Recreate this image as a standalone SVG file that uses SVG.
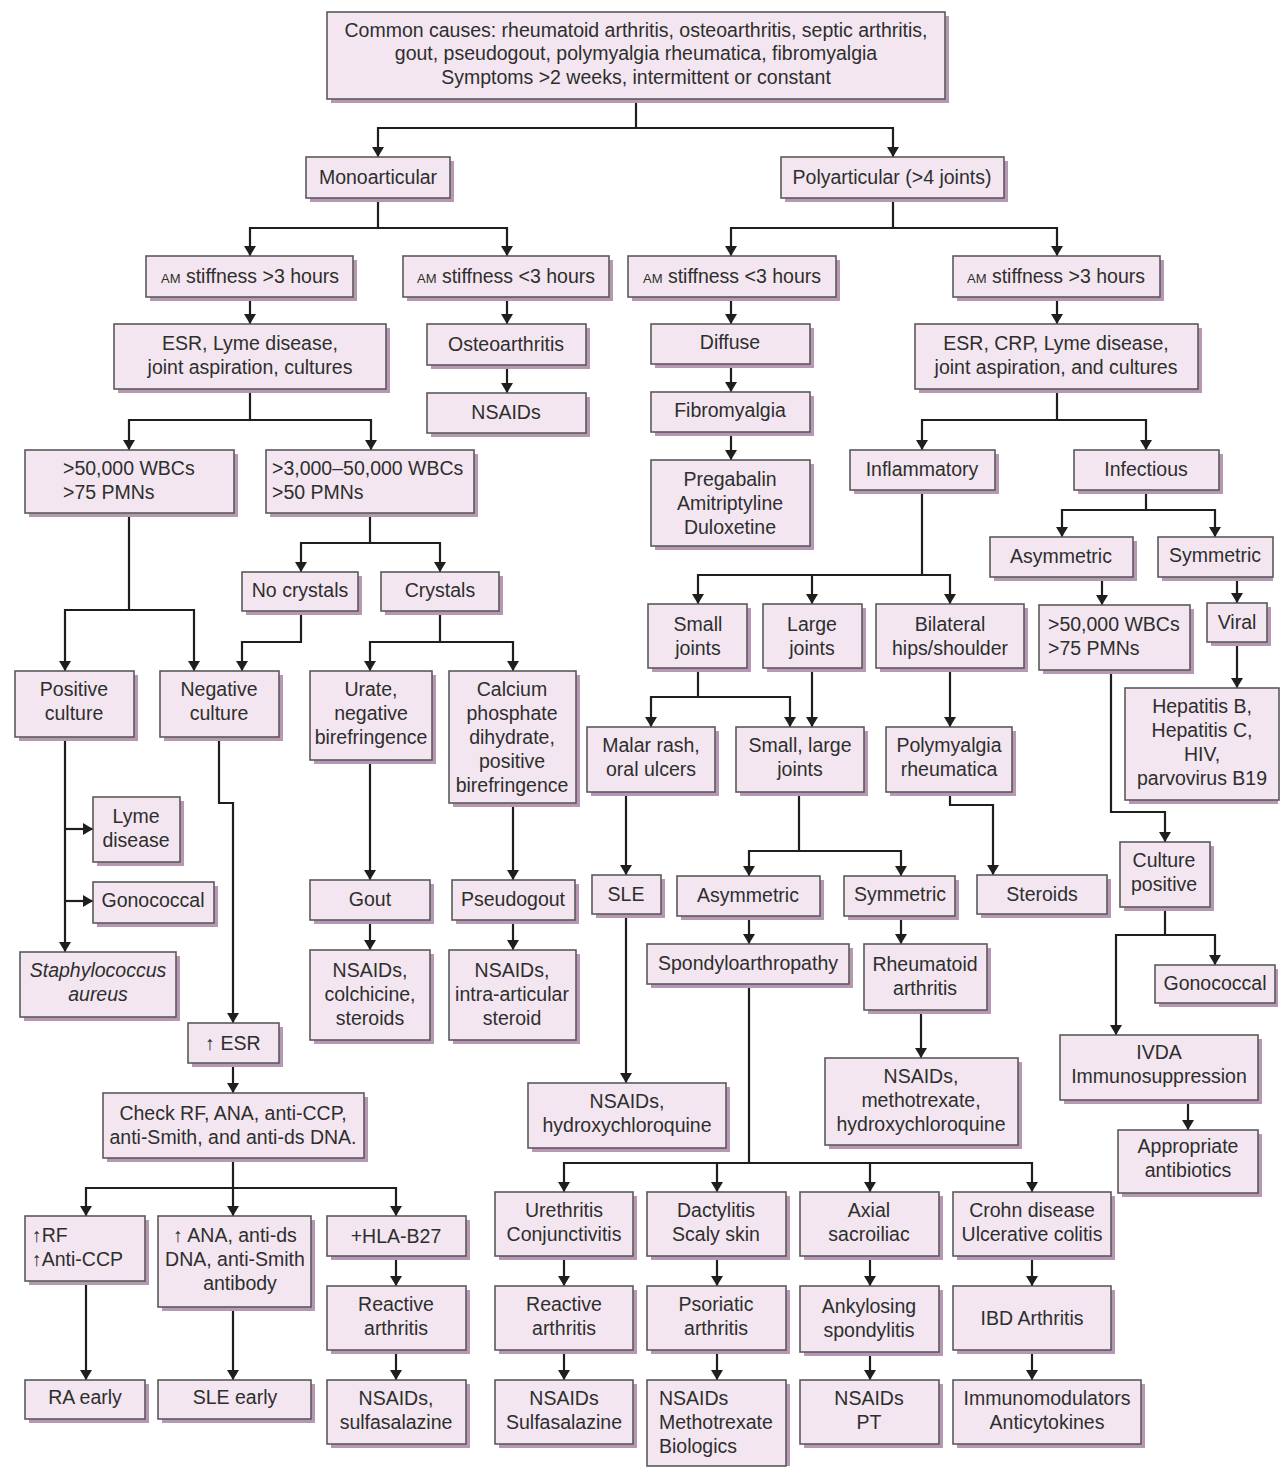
<svg xmlns="http://www.w3.org/2000/svg" width="1282" height="1468" viewBox="0 0 1282 1468">
<defs>
<marker id="ah" viewBox="0 0 10 12" refX="10" refY="6" markerWidth="10" markerHeight="12" markerUnits="userSpaceOnUse" orient="auto">
<path d="M0,0 L10,6 L0,12 Z" fill="#1e1e1e"/>
</marker>
<style>
.s{fill:#b797b3;}
.b{fill:#f3e6f0;stroke:#5a5a5a;stroke-width:1.6;}
text{font-family:"Liberation Sans",Arial,sans-serif;font-size:19.5px;fill:#2e2e2e;}
.t{text-anchor:middle;}
.i{font-style:italic;}
.sc{font-size:13px;}
.c path{fill:none;stroke:#1e1e1e;stroke-width:2.2;}
.c path.a{marker-end:url(#ah);}
</style>
</defs>
<rect width="1282" height="1468" fill="#ffffff"/>

<g class="c" id="connectors">
<path class="a" d="M636 99 V128 H378 V157"/>
<path class="a" d="M636 128 H893 V157"/>
<path class="a" d="M378 198 V228 H250 V256"/>
<path class="a" d="M378 228 H507 V256"/>
<path class="a" d="M893 198 V228 H731 V256"/>
<path class="a" d="M893 228 H1057 V256"/>
<path class="a" d="M250 297 V324"/>
<path class="a" d="M507 297 V324"/>
<path class="a" d="M507 365 V393"/>
<path class="a" d="M731 297 V324"/>
<path class="a" d="M731 364 V392"/>
<path class="a" d="M731 432 V460"/>
<path class="a" d="M1057 297 V324"/>
<path class="a" d="M250 389 V420 H129 V450"/>
<path class="a" d="M250 420 H371 V450"/>
<path class="a" d="M370 513 V543 H301 V572"/>
<path class="a" d="M370 543 H440 V572"/>
<path class="a" d="M129 513 V610 H65 V671"/>
<path class="a" d="M129 610 H194 V671"/>
<path class="a" d="M301 611 V642 H242 V671"/>
<path class="a" d="M440 611 V642 H370 V671"/>
<path class="a" d="M440 642 H513 V671"/>
<path class="a" d="M65 737 V952"/>
<path class="a" d="M65 829 H93"/>
<path class="a" d="M65 901 H93"/>
<path class="a" d="M219 737 V803 H233 V1023"/>
<path class="a" d="M233 1063 V1093"/>
<path class="a" d="M233 1158 V1188 H86 V1216"/>
<path class="a" d="M233 1188 V1216"/>
<path class="a" d="M233 1188 H396 V1216"/>
<path class="a" d="M86 1281 V1380"/>
<path class="a" d="M233 1307 V1380"/>
<path class="a" d="M396 1256 V1286"/>
<path class="a" d="M396 1350 V1380"/>
<path class="a" d="M370 760 V880"/>
<path class="a" d="M370 920 V950"/>
<path class="a" d="M513 803 V880"/>
<path class="a" d="M513 920 V950"/>
<path class="a" d="M1057 389 V420 H922 V450"/>
<path class="a" d="M1057 420 H1146 V450"/>
<path class="a" d="M1146 490 V510 H1062 V537"/>
<path class="a" d="M1146 510 H1215 V537"/>
<path class="a" d="M1102 577 V605"/>
<path class="a" d="M1237 577 V603"/>
<path class="a" d="M1237 642 V688"/>
<path class="a" d="M1111 670 V812 H1165 V842"/>
<path class="a" d="M1165 907 V935 H1116 V1035"/>
<path class="a" d="M1165 935 H1215 V965"/>
<path class="a" d="M1188 1100 V1130"/>
<path class="a" d="M922 490 V575 H698 V604"/>
<path class="a" d="M922 575 H812 V604"/>
<path class="a" d="M922 575 H950 V604"/>
<path class="a" d="M698 668 V697 H651 V727"/>
<path class="a" d="M698 697 H790 V727"/>
<path class="a" d="M812 668 V727"/>
<path class="a" d="M950 668 V727"/>
<path class="a" d="M950 792 V805 H993 V875"/>
<path class="a" d="M626 792 V875"/>
<path class="a" d="M626 914 V1083"/>
<path class="a" d="M799 792 V851 H749 V876"/>
<path class="a" d="M799 851 H901 V876"/>
<path class="a" d="M749 916 V944"/>
<path class="a" d="M901 916 V944"/>
<path class="a" d="M921 1010 V1058"/>
<path class="a" d="M749 984 V1163 H564 V1192"/>
<path class="a" d="M749 1163 H717 V1192"/>
<path class="a" d="M749 1163 H870 V1192"/>
<path class="a" d="M749 1163 H1032 V1192"/>
<path class="a" d="M564 1256 V1286"/>
<path class="a" d="M717 1256 V1286"/>
<path class="a" d="M870 1256 V1286"/>
<path class="a" d="M1032 1256 V1286"/>
<path class="a" d="M564 1350 V1380"/>
<path class="a" d="M717 1350 V1380"/>
<path class="a" d="M870 1352 V1380"/>
<path class="a" d="M1032 1350 V1380"/>
</g>

<g id="n-top"><rect class="s" x="331" y="16" width="618" height="87"/><rect class="b" x="327" y="12" width="618" height="87"/>
<text class="t"><tspan x="636" y="37">Common causes: rheumatoid arthritis, osteoarthritis, septic arthritis,</tspan><tspan x="636" y="60">gout, pseudogout, polymyalgia rheumatica, fibromyalgia</tspan><tspan x="636" y="84">Symptoms &gt;2 weeks, intermittent or constant</tspan></text></g>

<g id="n-mono"><rect class="s" x="310" y="161" width="144" height="41"/><rect class="b" x="306" y="157" width="144" height="41"/><text class="t" x="378" y="184">Monoarticular</text></g>
<g id="n-poly"><rect class="s" x="785" y="161" width="223" height="41"/><rect class="b" x="781" y="157" width="223" height="41"/><text class="t" x="892" y="184">Polyarticular (&gt;4 joints)</text></g>

<g id="n-am1"><rect class="s" x="150" y="260" width="207" height="41"/><rect class="b" x="146" y="256" width="207" height="41"/><text class="t" x="250" y="283"><tspan class="sc">AM</tspan> stiffness &gt;3 hours</text></g>
<g id="n-am2"><rect class="s" x="407" y="260" width="206" height="41"/><rect class="b" x="403" y="256" width="206" height="41"/><text class="t" x="506" y="283"><tspan class="sc">AM</tspan> stiffness &lt;3 hours</text></g>
<g id="n-am3"><rect class="s" x="632" y="260" width="208" height="41"/><rect class="b" x="628" y="256" width="208" height="41"/><text class="t" x="732" y="283"><tspan class="sc">AM</tspan> stiffness &lt;3 hours</text></g>
<g id="n-am4"><rect class="s" x="957" y="260" width="207" height="41"/><rect class="b" x="953" y="256" width="207" height="41"/><text class="t" x="1056" y="283"><tspan class="sc">AM</tspan> stiffness &gt;3 hours</text></g>

<g id="n-esr1"><rect class="s" x="118" y="328" width="272" height="65"/><rect class="b" x="114" y="324" width="272" height="65"/><text class="t"><tspan x="250" y="350">ESR, Lyme disease,</tspan><tspan x="250" y="374">joint aspiration, cultures</tspan></text></g>
<g id="n-oa"><rect class="s" x="431" y="328" width="159" height="41"/><rect class="b" x="427" y="324" width="159" height="41"/><text class="t" x="506" y="351">Osteoarthritis</text></g>
<g id="n-nsaid1"><rect class="s" x="431" y="397" width="159" height="40"/><rect class="b" x="427" y="393" width="159" height="40"/><text class="t" x="506" y="419">NSAIDs</text></g>
<g id="n-diffuse"><rect class="s" x="655" y="328" width="159" height="40"/><rect class="b" x="651" y="324" width="159" height="40"/><text class="t" x="730" y="349">Diffuse</text></g>
<g id="n-fibro"><rect class="s" x="655" y="396" width="159" height="40"/><rect class="b" x="651" y="392" width="159" height="40"/><text class="t" x="730" y="417">Fibromyalgia</text></g>
<g id="n-prega"><rect class="s" x="655" y="464" width="159" height="86"/><rect class="b" x="651" y="460" width="159" height="86"/><text class="t"><tspan x="730" y="486">Pregabalin</tspan><tspan x="730" y="510">Amitriptyline</tspan><tspan x="730" y="534">Duloxetine</tspan></text></g>
<g id="n-esr2"><rect class="s" x="919" y="328" width="283" height="65"/><rect class="b" x="915" y="324" width="283" height="65"/><text class="t"><tspan x="1056" y="350">ESR, CRP, Lyme disease,</tspan><tspan x="1056" y="374">joint aspiration, and cultures</tspan></text></g>

<g id="n-wbc1"><rect class="s" x="29" y="454" width="209" height="63"/><rect class="b" x="25" y="450" width="209" height="63"/><text><tspan x="63" y="475">&gt;50,000 WBCs</tspan><tspan x="63" y="499">&gt;75 PMNs</tspan></text></g>
<g id="n-wbc2"><rect class="s" x="270" y="454" width="208" height="63"/><rect class="b" x="266" y="450" width="208" height="63"/><text><tspan x="272" y="475">&gt;3,000–50,000 WBCs</tspan><tspan x="272" y="499">&gt;50 PMNs</tspan></text></g>
<g id="n-nocry"><rect class="s" x="246" y="576" width="116" height="39"/><rect class="b" x="242" y="572" width="116" height="39"/><text class="t" x="300" y="597">No crystals</text></g>
<g id="n-cry"><rect class="s" x="385" y="576" width="118" height="39"/><rect class="b" x="381" y="572" width="118" height="39"/><text class="t" x="440" y="597">Crystals</text></g>

<g id="n-poscul"><rect class="s" x="19" y="675" width="119" height="66"/><rect class="b" x="15" y="671" width="119" height="66"/><text class="t"><tspan x="74" y="696">Positive</tspan><tspan x="74" y="720">culture</tspan></text></g>
<g id="n-negcul"><rect class="s" x="164" y="675" width="119" height="66"/><rect class="b" x="160" y="671" width="119" height="66"/><text class="t"><tspan x="219" y="696">Negative</tspan><tspan x="219" y="720">culture</tspan></text></g>
<g id="n-urate"><rect class="s" x="314" y="675" width="122" height="89"/><rect class="b" x="310" y="671" width="122" height="89"/><text class="t"><tspan x="371" y="696">Urate,</tspan><tspan x="371" y="720">negative</tspan><tspan x="371" y="744">birefringence</tspan></text></g>
<g id="n-calc"><rect class="s" x="453" y="675" width="127" height="132"/><rect class="b" x="449" y="671" width="127" height="132"/><text class="t"><tspan x="512" y="696">Calcium</tspan><tspan x="512" y="720">phosphate</tspan><tspan x="512" y="744">dihydrate,</tspan><tspan x="512" y="768">positive</tspan><tspan x="512" y="792">birefringence</tspan></text></g>

<g id="n-lyme"><rect class="s" x="97" y="801" width="87" height="65"/><rect class="b" x="93" y="797" width="87" height="65"/><text class="t"><tspan x="136" y="823">Lyme</tspan><tspan x="136" y="847">disease</tspan></text></g>
<g id="n-gono1"><rect class="s" x="97" y="886" width="121" height="41"/><rect class="b" x="93" y="882" width="121" height="41"/><text class="t" x="153" y="907">Gonococcal</text></g>
<g id="n-staph"><rect class="s" x="24" y="956" width="156" height="65"/><rect class="b" x="20" y="952" width="156" height="65"/><text class="t i"><tspan x="98" y="977">Staphylococcus</tspan><tspan x="98" y="1001">aureus</tspan></text></g>
<g id="n-upesr"><rect class="s" x="192" y="1027" width="91" height="40"/><rect class="b" x="188" y="1023" width="91" height="40"/><text class="t" x="233" y="1050">↑ ESR</text></g>
<g id="n-check"><rect class="s" x="107" y="1097" width="261" height="65"/><rect class="b" x="103" y="1093" width="261" height="65"/><text class="t"><tspan x="233" y="1120">Check RF, ANA, anti-CCP,</tspan><tspan x="233" y="1144">anti-Smith, and anti-ds DNA.</tspan></text></g>
<g id="n-rf"><rect class="s" x="29" y="1220" width="120" height="65"/><rect class="b" x="25" y="1216" width="120" height="65"/><text><tspan x="32" y="1242">↑RF</tspan><tspan x="32" y="1266">↑Anti-CCP</tspan></text></g>
<g id="n-ana"><rect class="s" x="162" y="1220" width="153" height="91"/><rect class="b" x="158" y="1216" width="153" height="91"/><text class="t"><tspan x="235" y="1242">↑ ANA, anti-ds</tspan><tspan x="235" y="1266">DNA, anti-Smith</tspan><tspan x="240" y="1290">antibody</tspan></text></g>
<g id="n-hla"><rect class="s" x="331" y="1220" width="139" height="40"/><rect class="b" x="327" y="1216" width="139" height="40"/><text class="t" x="396" y="1243">+HLA-B27</text></g>
<g id="n-react1"><rect class="s" x="331" y="1290" width="139" height="64"/><rect class="b" x="327" y="1286" width="139" height="64"/><text class="t"><tspan x="396" y="1311">Reactive</tspan><tspan x="396" y="1335">arthritis</tspan></text></g>
<g id="n-sulfa1"><rect class="s" x="331" y="1384" width="139" height="64"/><rect class="b" x="327" y="1380" width="139" height="64"/><text class="t"><tspan x="396" y="1405">NSAIDs,</tspan><tspan x="396" y="1429">sulfasalazine</tspan></text></g>
<g id="n-raearly"><rect class="s" x="29" y="1384" width="120" height="39"/><rect class="b" x="25" y="1380" width="120" height="39"/><text class="t" x="85" y="1404">RA early</text></g>
<g id="n-sleearly"><rect class="s" x="162" y="1384" width="153" height="39"/><rect class="b" x="158" y="1380" width="153" height="39"/><text class="t" x="235" y="1404">SLE early</text></g>

<g id="n-gout"><rect class="s" x="314" y="884" width="120" height="40"/><rect class="b" x="310" y="880" width="120" height="40"/><text class="t" x="370" y="906">Gout</text></g>
<g id="n-colch"><rect class="s" x="314" y="954" width="120" height="90"/><rect class="b" x="310" y="950" width="120" height="90"/><text class="t"><tspan x="370" y="977">NSAIDs,</tspan><tspan x="370" y="1001">colchicine,</tspan><tspan x="370" y="1025">steroids</tspan></text></g>
<g id="n-pseudo"><rect class="s" x="456" y="884" width="123" height="40"/><rect class="b" x="452" y="880" width="123" height="40"/><text class="t" x="513" y="906">Pseudogout</text></g>
<g id="n-intra"><rect class="s" x="453" y="954" width="127" height="90"/><rect class="b" x="449" y="950" width="127" height="90"/><text class="t"><tspan x="512" y="977">NSAIDs,</tspan><tspan x="512" y="1001">intra-articular</tspan><tspan x="512" y="1025">steroid</tspan></text></g>

<g id="n-inflam"><rect class="s" x="854" y="454" width="145" height="40"/><rect class="b" x="850" y="450" width="145" height="40"/><text class="t" x="922" y="476">Inflammatory</text></g>
<g id="n-infect"><rect class="s" x="1078" y="454" width="145" height="40"/><rect class="b" x="1074" y="450" width="145" height="40"/><text class="t" x="1146" y="476">Infectious</text></g>
<g id="n-asym1"><rect class="s" x="994" y="541" width="143" height="40"/><rect class="b" x="990" y="537" width="143" height="40"/><text class="t" x="1061" y="563">Asymmetric</text></g>
<g id="n-sym1"><rect class="s" x="1162" y="541" width="111" height="40"/><rect class="b" x="1158" y="537" width="115" height="40"/><text class="t" x="1215" y="562">Symmetric</text></g>
<g id="n-wbc3"><rect class="s" x="1043" y="609" width="151" height="65"/><rect class="b" x="1039" y="605" width="151" height="65"/><text><tspan x="1048" y="631">&gt;50,000 WBCs</tspan><tspan x="1048" y="655">&gt;75 PMNs</tspan></text></g>
<g id="n-viral"><rect class="s" x="1211" y="607" width="60" height="39"/><rect class="b" x="1207" y="603" width="60" height="39"/><text class="t" x="1237" y="629">Viral</text></g>
<g id="n-hep"><rect class="s" x="1129" y="692" width="149" height="112"/><rect class="b" x="1125" y="688" width="154" height="112"/><text class="t"><tspan x="1202" y="713">Hepatitis B,</tspan><tspan x="1202" y="737">Hepatitis C,</tspan><tspan x="1202" y="761">HIV,</tspan><tspan x="1202" y="785">parvovirus B19</tspan></text></g>
<g id="n-culpos"><rect class="s" x="1124" y="846" width="90" height="65"/><rect class="b" x="1120" y="842" width="90" height="65"/><text class="t"><tspan x="1164" y="867">Culture</tspan><tspan x="1164" y="891">positive</tspan></text></g>
<g id="n-gono2"><rect class="s" x="1159" y="969" width="119" height="38"/><rect class="b" x="1155" y="965" width="120" height="38"/><text class="t" x="1215" y="990">Gonococcal</text></g>
<g id="n-ivda"><rect class="s" x="1064" y="1039" width="198" height="65"/><rect class="b" x="1060" y="1035" width="198" height="65"/><text class="t"><tspan x="1159" y="1059">IVDA</tspan><tspan x="1159" y="1083">Immunosuppression</tspan></text></g>
<g id="n-abx"><rect class="s" x="1122" y="1134" width="140" height="63"/><rect class="b" x="1118" y="1130" width="140" height="63"/><text class="t"><tspan x="1188" y="1153">Appropriate</tspan><tspan x="1188" y="1177">antibiotics</tspan></text></g>

<g id="n-small"><rect class="s" x="652" y="608" width="99" height="64"/><rect class="b" x="648" y="604" width="99" height="64"/><text class="t"><tspan x="698" y="631">Small</tspan><tspan x="698" y="655">joints</tspan></text></g>
<g id="n-large"><rect class="s" x="767" y="608" width="99" height="64"/><rect class="b" x="763" y="604" width="99" height="64"/><text class="t"><tspan x="812" y="631">Large</tspan><tspan x="812" y="655">joints</tspan></text></g>
<g id="n-bilat"><rect class="s" x="880" y="608" width="148" height="64"/><rect class="b" x="876" y="604" width="148" height="64"/><text class="t"><tspan x="950" y="631">Bilateral</tspan><tspan x="950" y="655">hips/shoulder</tspan></text></g>
<g id="n-malar"><rect class="s" x="591" y="731" width="128" height="65"/><rect class="b" x="587" y="727" width="128" height="65"/><text class="t"><tspan x="651" y="752">Malar rash,</tspan><tspan x="651" y="776">oral ulcers</tspan></text></g>
<g id="n-smlg"><rect class="s" x="740" y="731" width="128" height="65"/><rect class="b" x="736" y="727" width="128" height="65"/><text class="t"><tspan x="800" y="752">Small, large</tspan><tspan x="800" y="776">joints</tspan></text></g>
<g id="n-pmr"><rect class="s" x="890" y="731" width="126" height="65"/><rect class="b" x="886" y="727" width="126" height="65"/><text class="t"><tspan x="949" y="752">Polymyalgia</tspan><tspan x="949" y="776">rheumatica</tspan></text></g>
<g id="n-steroids"><rect class="s" x="981" y="879" width="130" height="39"/><rect class="b" x="977" y="875" width="130" height="39"/><text class="t" x="1042" y="901">Steroids</text></g>
<g id="n-sle"><rect class="s" x="596" y="879" width="69" height="39"/><rect class="b" x="592" y="875" width="69" height="39"/><text class="t" x="626" y="901">SLE</text></g>
<g id="n-hcq"><rect class="s" x="532" y="1087" width="198" height="65"/><rect class="b" x="528" y="1083" width="198" height="65"/><text class="t"><tspan x="627" y="1108">NSAIDs,</tspan><tspan x="627" y="1132">hydroxychloroquine</tspan></text></g>
<g id="n-asym2"><rect class="s" x="681" y="880" width="143" height="40"/><rect class="b" x="677" y="876" width="143" height="40"/><text class="t" x="748" y="902">Asymmetric</text></g>
<g id="n-sym2"><rect class="s" x="848" y="880" width="111" height="40"/><rect class="b" x="844" y="876" width="111" height="40"/><text class="t" x="900" y="901">Symmetric</text></g>
<g id="n-spondy"><rect class="s" x="651" y="948" width="202" height="40"/><rect class="b" x="647" y="944" width="202" height="40"/><text class="t" x="748" y="970">Spondyloarthropathy</text></g>
<g id="n-ra"><rect class="s" x="868" y="948" width="123" height="66"/><rect class="b" x="864" y="944" width="123" height="66"/><text class="t"><tspan x="925" y="971">Rheumatoid</tspan><tspan x="925" y="995">arthritis</tspan></text></g>
<g id="n-mtx"><rect class="s" x="829" y="1062" width="193" height="87"/><rect class="b" x="825" y="1058" width="193" height="87"/><text class="t"><tspan x="921" y="1083">NSAIDs,</tspan><tspan x="921" y="1107">methotrexate,</tspan><tspan x="921" y="1131">hydroxychloroquine</tspan></text></g>

<g id="n-ureth"><rect class="s" x="499" y="1196" width="138" height="64"/><rect class="b" x="495" y="1192" width="138" height="64"/><text class="t"><tspan x="564" y="1217">Urethritis</tspan><tspan x="564" y="1241">Conjunctivitis</tspan></text></g>
<g id="n-dact"><rect class="s" x="651" y="1196" width="139" height="64"/><rect class="b" x="647" y="1192" width="139" height="64"/><text class="t"><tspan x="716" y="1217">Dactylitis</tspan><tspan x="716" y="1241">Scaly skin</tspan></text></g>
<g id="n-axial"><rect class="s" x="804" y="1196" width="139" height="64"/><rect class="b" x="800" y="1192" width="139" height="64"/><text class="t"><tspan x="869" y="1217">Axial</tspan><tspan x="869" y="1241">sacroiliac</tspan></text></g>
<g id="n-crohn"><rect class="s" x="957" y="1196" width="158" height="64"/><rect class="b" x="953" y="1192" width="158" height="64"/><text class="t"><tspan x="1032" y="1217">Crohn disease</tspan><tspan x="1032" y="1241">Ulcerative colitis</tspan></text></g>
<g id="n-react2"><rect class="s" x="499" y="1290" width="138" height="64"/><rect class="b" x="495" y="1286" width="138" height="64"/><text class="t"><tspan x="564" y="1311">Reactive</tspan><tspan x="564" y="1335">arthritis</tspan></text></g>
<g id="n-psor"><rect class="s" x="651" y="1290" width="139" height="64"/><rect class="b" x="647" y="1286" width="139" height="64"/><text class="t"><tspan x="716" y="1311">Psoriatic</tspan><tspan x="716" y="1335">arthritis</tspan></text></g>
<g id="n-ank"><rect class="s" x="804" y="1290" width="139" height="66"/><rect class="b" x="800" y="1286" width="139" height="66"/><text class="t"><tspan x="869" y="1313">Ankylosing</tspan><tspan x="869" y="1337">spondylitis</tspan></text></g>
<g id="n-ibd"><rect class="s" x="957" y="1290" width="158" height="64"/><rect class="b" x="953" y="1286" width="158" height="64"/><text class="t" x="1032" y="1325">IBD Arthritis</text></g>
<g id="n-sulfa2"><rect class="s" x="499" y="1384" width="138" height="64"/><rect class="b" x="495" y="1380" width="138" height="64"/><text class="t"><tspan x="564" y="1405">NSAIDs</tspan><tspan x="564" y="1429">Sulfasalazine</tspan></text></g>
<g id="n-bio"><rect class="s" x="651" y="1384" width="139" height="82"/><rect class="b" x="647" y="1380" width="139" height="86"/><text><tspan x="659" y="1405">NSAIDs</tspan><tspan x="659" y="1429">Methotrexate</tspan><tspan x="659" y="1453">Biologics</tspan></text></g>
<g id="n-pt"><rect class="s" x="804" y="1384" width="139" height="64"/><rect class="b" x="800" y="1380" width="139" height="64"/><text class="t"><tspan x="869" y="1405">NSAIDs</tspan><tspan x="869" y="1429">PT</tspan></text></g>
<g id="n-immuno"><rect class="s" x="957" y="1384" width="188" height="64"/><rect class="b" x="953" y="1380" width="188" height="64"/><text class="t"><tspan x="1047" y="1405">Immunomodulators</tspan><tspan x="1047" y="1429">Anticytokines</tspan></text></g>
</svg>
